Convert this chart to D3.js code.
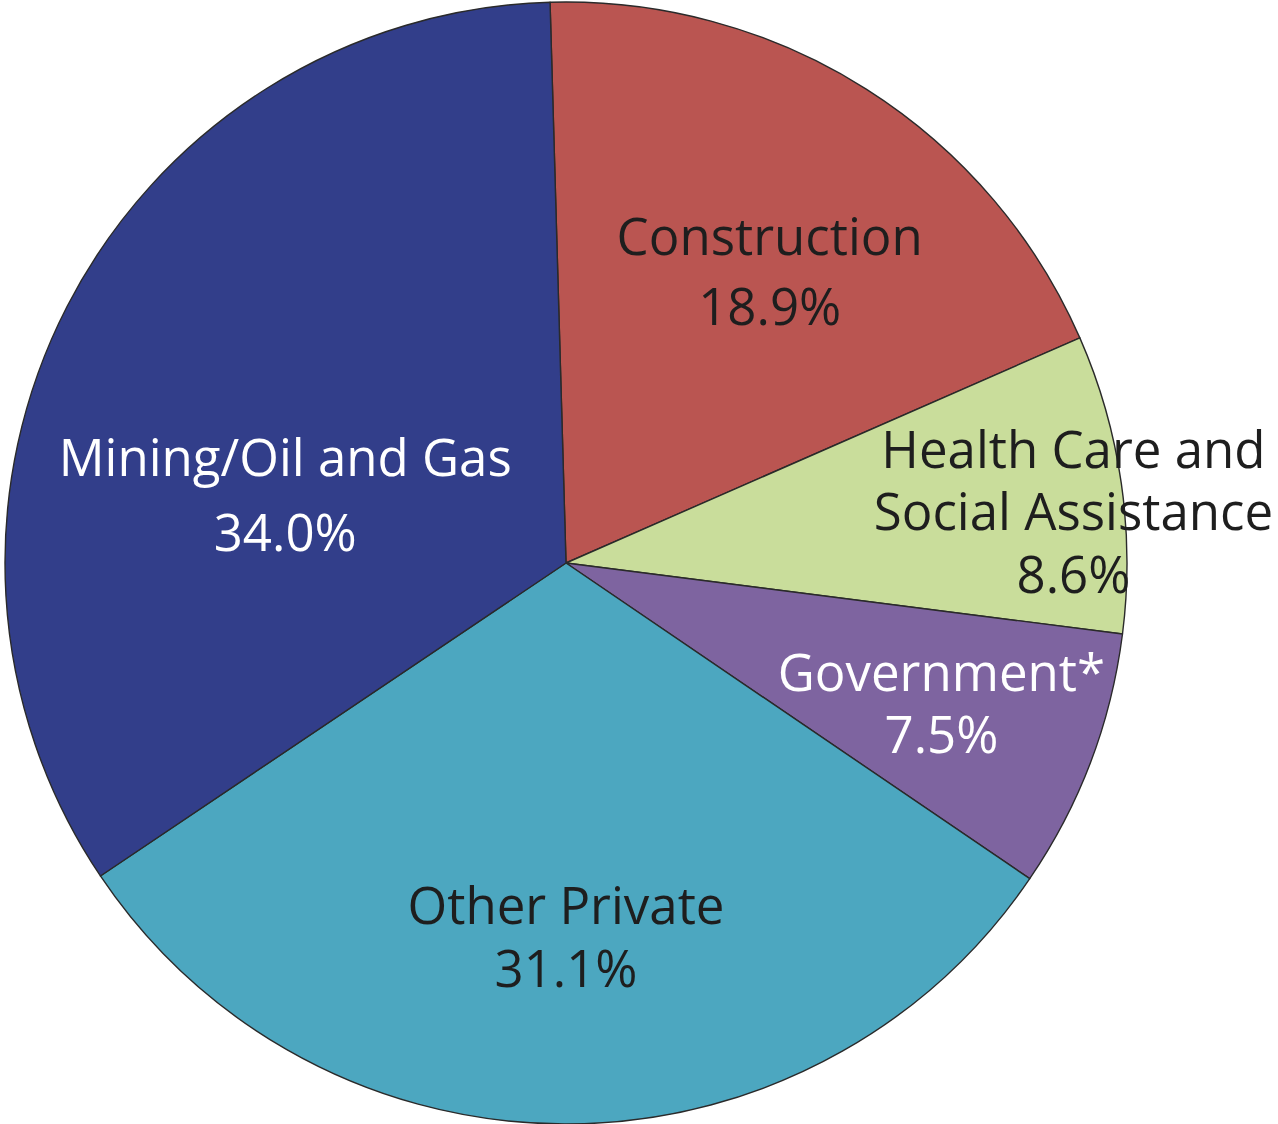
<!doctype html>
<html>
<meta content="text/html;charset=utf-8" http-equiv="Content-Type">
<style>
    body {
        margin: 0;
        background: #ffffff;
    }

    .label {
        font-family: "Open Sans", "Noto Sans", sans-serif;
        font-size: 51px;
    }
</style>
<head>
    <title>Share by sector</title>
    <script src="https://cdn.jsdelivr.net/npm/d3@7/dist/d3.min.js" charset="utf-8"></script>
</head>
<body>
    <div id="chartArea"></div>
    <script>
        // data, clockwise from the top
        var sectors = ["Construction", "Health Care and Social Assistance", "Government*", "Other Private", "Mining/Oil and Gas"];
        var shares = [18.9, 8.6, 7.5, 31.1, 34.0];
        var labelLines = [
            ["Construction", "18.9%"],
            ["Health Care and", "Social Assistance", "8.6%"],
            ["Government*", "7.5%"],
            ["Other Private", "31.1%"],
            ["Mining/Oil and Gas", "34.0%"]
        ];

        // look
        var sliceColors = ["#ba5551", "#c9dd9b", "#7e64a0", "#4ca7c0", "#323e8a"];
        var textColors = ["#1e1e1e", "#1e1e1e", "#ffffff", "#1e1e1e", "#ffffff"];
        // where each label block sits: angle (deg from top, clockwise), distance as part of radius, line step
        var labelPlacement = [
            { angle: 35.0, dist: 0.633, step: 70 },
            { angle: 84.3, dist: 0.909, step: 62.5 },
            { angle: 110.6, dist: 0.715, step: 62 },
            { angle: 180.0, dist: 0.668, step: 63 },
            { angle: 283.6, dist: 0.515, step: 75 }
        ];

        var width = 1278, height = 1124;
        var cx = 566, cy = 563, radius = 561;
        var startDeg = -1.63;

        var svg = d3.select("#chartArea").append("svg")
            .attr("width", width).attr("height", height);

        var g = svg.append("g").attr("transform", "translate(" + cx + "," + cy + ")");

        var pie = d3.pie().sort(null)
            .startAngle(startDeg * Math.PI / 180)
            .endAngle((startDeg + 360) * Math.PI / 180);
        var arc = d3.arc().innerRadius(0).outerRadius(radius);

        var arcs = pie(shares);

        g.selectAll("path.slice").data(arcs).enter().append("path")
            .attr("class", "slice")
            .attr("d", arc)
            .style("fill", function (d, i) { return sliceColors[i]; })
            .style("stroke", "#2a2a2a")
            .style("stroke-width", "1.4px")
            .style("stroke-linejoin", "round");

        // labels
        labelLines.forEach(function (lines, i) {
            var p = labelPlacement[i];
            var a = p.angle * Math.PI / 180;
            var x = Math.sin(a) * radius * p.dist;
            var y = -Math.cos(a) * radius * p.dist;
            var n = lines.length;
            var t = g.append("text").attr("class", "label")
                .attr("text-anchor", "middle")
                .style("fill", textColors[i]);
            lines.forEach(function (line, k) {
                // 18px brings the visual middle of the caps to the baseline offset
                t.append("tspan")
                    .attr("x", x)
                    .attr("y", y + (k - (n - 1) / 2) * p.step + 18)
                    .text(line);
            });
        });
    </script>
</body>
</html>
